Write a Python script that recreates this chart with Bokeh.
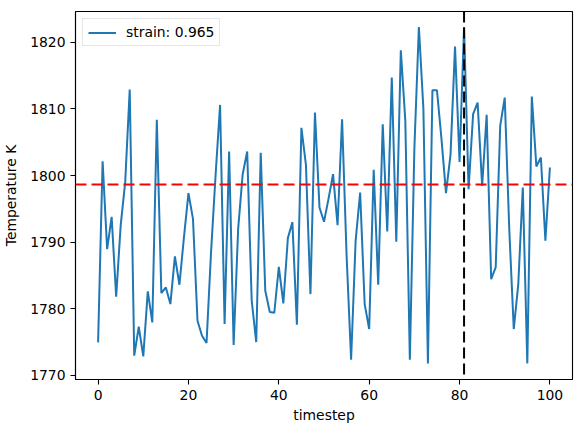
from bokeh.plotting import figure
from bokeh.models import Range1d, Span, FixedTicker, Legend
from bokeh.embed import file_html
from bokeh.resources import INLINE

timestep = list(range(101))
temperature = [
    1774.95, 1802.15, 1788.95, 1793.8, 1781.8, 1792.5, 1799.0, 1812.9, 1772.95, 1777.3,
    1772.85, 1782.6, 1777.95, 1808.35, 1782.35, 1783.2, 1780.7, 1787.85, 1783.6, 1790.7,
    1797.35, 1793.5, 1778.2, 1775.95, 1774.85, 1788.5, 1800.0, 1810.6, 1777.7, 1803.6,
    1774.55, 1792.0, 1800.2, 1803.6, 1781.2, 1775.0, 1803.4, 1782.7, 1779.5, 1779.4,
    1786.3, 1780.8, 1790.6, 1793.0, 1777.6, 1807.15, 1801.6, 1782.2, 1809.45, 1795.2,
    1793.05, 1796.5, 1800.2, 1792.55, 1808.45, 1788.0, 1772.35, 1790.2, 1797.45, 1780.7,
    1776.95, 1800.85, 1783.6, 1807.7, 1791.6, 1814.7, 1790.05, 1818.8, 1808.2, 1772.35,
    1804.0, 1822.3, 1810.0, 1771.8, 1812.8, 1812.8, 1805.5, 1797.35, 1803.1, 1819.35,
    1802.05, 1822.3, 1797.95, 1809.2, 1810.95, 1798.45, 1809.1, 1784.45, 1786.2, 1807.45,
    1811.7, 1792.0, 1776.95, 1783.7, 1798.2, 1771.8, 1811.85, 1801.35, 1802.7, 1790.2,
    1801.2,
]
legend_text = "strain: 0.965"
mean_temperature = 1798.65
marker_timestep = 81
x_ticks = [0, 20, 40, 60, 80, 100]
y_ticks = [1770, 1780, 1790, 1800, 1810, 1820]

FONT = "DejaVu Sans"

p = figure(width=581, height=425, output_backend="svg", toolbar_location=None,
           x_range=Range1d(-5, 105), y_range=Range1d(1769.38, 1824.62),
           min_border_left=75, min_border_right=9, min_border_top=11, min_border_bottom=46)

p.background_fill_color = "white"
p.border_fill_color = "white"
p.outline_line_color = "black"
p.outline_line_width = 1.1
p.xgrid.visible = False
p.ygrid.visible = False

r = p.line(timestep, temperature, line_color="#1f77b4", line_width=2)

p.add_layout(Span(location=mean_temperature, dimension="width", line_color="red",
                  line_dash="11 5", line_width=2))
p.add_layout(Span(location=marker_timestep, dimension="height", line_color="black",
                  line_dash="11 5", line_width=2))

for ax, ticks in ((p.xaxis[0], x_ticks), (p.yaxis[0], y_ticks)):
    ax.ticker = FixedTicker(ticks=ticks)
    ax.minor_tick_line_color = None
    ax.major_tick_in = 0
    ax.major_tick_out = 5
    ax.major_tick_line_width = 1.1
    ax.major_tick_line_color = "black"
    ax.axis_line_color = "black"
    ax.axis_line_width = 1.1
    ax.major_label_text_font = FONT
    ax.major_label_text_font_size = "13.9px"
    ax.major_label_text_color = "black"
    ax.major_label_standoff = 5
    ax.axis_label_text_font = FONT
    ax.axis_label_text_font_size = "13.9px"
    ax.axis_label_text_font_style = "normal"
    ax.axis_label_text_color = "black"

p.xaxis[0].axis_label = "timestep"
p.xaxis[0].axis_label_standoff = 4
p.yaxis[0].axis_label = "Temperature K"
p.yaxis[0].axis_label_standoff = 8

legend = Legend(items=[(legend_text, [r])], location="top_left")
legend.margin = 7
legend.padding = 5
legend.spacing = 0
legend.glyph_width = 28
legend.glyph_height = 15
legend.label_height = 15
legend.label_standoff = 10
legend.label_text_font = FONT
legend.label_text_font_size = "13.9px"
legend.label_text_color = "black"
legend.border_line_color = "#cccccc"
legend.border_line_width = 1
legend.background_fill_color = "white"
legend.background_fill_alpha = 0.8
p.add_layout(legend)

open("out.html", "w").write(file_html(p, INLINE))
